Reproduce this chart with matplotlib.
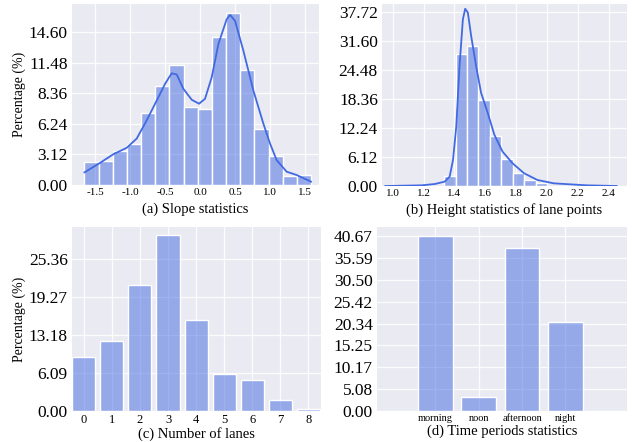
import matplotlib
matplotlib.use("Agg")
import matplotlib.pyplot as plt

# ---------------- data ----------------
# (a) slope histogram
slope_edges = [-1.652, -1.450, -1.247, -1.045, -0.842, -0.640, -0.438, -0.235, -0.033,
               0.170, 0.372, 0.574, 0.777, 0.979, 1.182, 1.384, 1.586]
slope_heights = [2.31, 2.44, 3.49, 4.17, 7.32, 10.07, 12.31, 7.97, 7.73,
                 15.15, 17.63, 11.80, 5.69, 2.92, 0.92, 1.02]
slope_kde_x = [-1.652, -1.443, -1.238, -1.048, -0.905, -0.762, -0.619, -0.500, -0.405, -0.333,
               -0.238, -0.119, -0.014, 0.071, 0.167, 0.262, 0.381, 0.429, 0.500, 0.619,
               0.762, 0.905, 1.000, 1.095, 1.238, 1.381, 1.586]
slope_kde_y = [1.29, 2.20, 3.15, 3.80, 4.75, 6.61, 8.64, 10.34, 11.42, 11.29,
               9.83, 8.71, 8.31, 8.81, 11.02, 14.41, 16.95, 17.39, 16.78, 13.73,
               9.66, 6.27, 4.24, 2.54, 1.36, 1.02, 0.34]
slope_yticks = [0, 3.12, 6.24, 9.36, 12.48, 15.60]
slope_ylabels = ["0.00", "3.12", "6.24", "8.36", "11.48", "14.60"]
slope_xticks = [-1.5, -1.0, -0.5, 0.0, 0.5, 1.0, 1.5]
slope_xlabels = ["-1.5", "-1.0", "-0.5", "0.0", "0.5", "1.0", "1.5"]

# (b) height histogram
height_edges = [1.333, 1.408, 1.481, 1.556, 1.631, 1.704, 1.779, 1.852, 1.927, 2.002]
height_heights = [2.1, 27.8, 29.4, 18.2, 10.6, 5.6, 2.8, 1.27, 0.56]
height_kde_x = [0.951, 1.187, 1.273, 1.337, 1.369, 1.391, 1.412, 1.433, 1.455, 1.470, 1.487,
                1.509, 1.541, 1.573, 1.616, 1.659, 1.712, 1.777, 1.852, 1.938, 2.045, 2.260, 2.453]
height_kde_y = [0.0, 0.14, 0.42, 0.92, 1.97, 5.49, 12.54, 25.2, 35.1, 37.3, 36.5,
                31.5, 25.2, 19.6, 15.4, 10.8, 7.25, 4.79, 2.68, 1.27, 0.56, 0.14, 0.0]
height_yticks = [0, 6.12, 12.24, 18.36, 24.48, 30.60, 36.72]
height_ylabels = ["0.00", "6.12", "12.24", "18.36", "24.48", "31.60", "37.72"]
height_xticks = [1.0, 1.2, 1.4, 1.6, 1.8, 2.0, 2.2, 2.4]
height_xlabels = ["1.0", "1.2", "1.4", "1.6", "1.8", "2.0", "2.2", "2.4"]

# (c) number of lanes
lane_counts = ["0", "1", "2", "3", "4", "5", "6", "7", "8"]
lane_pct = [8.66, 11.23, 20.27, 28.18, 14.65, 5.99, 4.92, 1.82, 0.27]
lane_yticks = [0, 6.09, 12.18, 18.27, 24.36]
lane_ylabels = ["0.00", "6.09", "13.18", "19.27", "25.36"]

# (d) time periods
periods = ["morning", "noon", "afternoon", "night"]
period_pct = [40.8, 3.3, 37.8, 20.7]
period_yticks = [0, 5.08, 10.17, 15.25, 20.34, 25.42, 30.50, 35.59, 40.67]
period_ylabels = ["0.00", "5.08", "10.17", "15.25", "20.34", "25.42", "30.50", "35.59", "40.67"]

# ---------------- style ----------------
plt.rcParams["font.family"] = ["Liberation Serif", "DejaVu Serif"]
plt.rcParams["axes.unicode_minus"] = False

BG = "#EAEAF2"
LINE = "#4169E1"
BAR = (65 / 255, 105 / 255, 225 / 255, 0.5)

W, H = 632, 442
fig = plt.figure(figsize=(W / 100, H / 100), dpi=100)


def make_ax(l, t, r, b):
    ax = fig.add_axes([l / W, (H - b) / H, (r - l) / W, (b - t) / H])
    ax.set_facecolor(BG)
    for s in ax.spines.values():
        s.set_visible(False)
    ax.grid(True, color="white", linewidth=0.9, alpha=0.9)
    ax.set_axisbelow(True)
    ax.tick_params(axis="both", length=0)
    ax.tick_params(axis="y", labelsize=12.5, pad=3)
    ax.tick_params(axis="x", labelsize=8, pad=2)
    return ax


# (a)
ax = make_ax(72, 4, 319, 185)
widths = [slope_edges[i + 1] - slope_edges[i] for i in range(len(slope_heights))]
ax.bar(slope_edges[:-1], slope_heights, width=widths, align="edge",
       color=BAR, edgecolor="white", linewidth=1.0)
ax.plot(slope_kde_x, slope_kde_y, color=LINE, linewidth=1.3)
ax.set_xlim(-1.83, 1.70)
ax.set_ylim(0, 18.5)
ax.set_yticks(slope_yticks, slope_ylabels)
ax.set_xticks(slope_xticks, slope_xlabels)
ax.set_xlabel("(a) Slope statistics", fontsize=10.5, labelpad=4)
ax.set_ylabel("Percentage (%)", fontsize=10, labelpad=2)

# (b)
ax = make_ax(382, 4, 627, 186)
widths = [height_edges[i + 1] - height_edges[i] for i in range(len(height_heights))]
ax.bar(height_edges[:-1], height_heights, width=widths, align="edge",
       color=BAR, edgecolor="white", linewidth=1.0)
ax.plot(height_kde_x, height_kde_y, color=LINE, linewidth=1.3)
ax.set_xlim(0.93, 2.52)
ax.set_ylim(0, 38.3)
ax.set_yticks(height_yticks, height_ylabels)
ax.set_xticks(height_xticks, height_xlabels)
ax.set_xlabel("(b) Height statistics of lane points", fontsize=10.5, labelpad=4)

# (c)
ax = make_ax(72, 227, 321, 411)
xs = list(range(len(lane_counts)))
ax.bar(xs, lane_pct, width=0.82, color=BAR, edgecolor="white", linewidth=1.0)
ax.set_xlim(-0.42, 8.45)
ax.set_ylim(0, 29.5)
ax.set_yticks(lane_yticks, lane_ylabels)
ax.set_xticks(xs, lane_counts)
ax.tick_params(axis="x", labelsize=9)
ax.set_xlabel("(c) Number of lanes", fontsize=10.5, labelpad=1)
ax.set_ylabel("Percentage (%)", fontsize=10, labelpad=2)

# (d)
ax = make_ax(377, 227, 627, 411)
xs = list(range(len(periods)))
ax.bar(xs, period_pct, width=0.8, color=BAR, edgecolor="white", linewidth=1.0)
ax.set_xlim(-1.35, 4.42)
ax.set_ylim(0, 42.8)
ax.set_yticks(period_yticks, period_ylabels)
ax.set_xticks(xs, periods)
ax.tick_params(axis="x", labelsize=7.5)
ax.set_xlabel("(d) Time periods statistics", fontsize=10.5, labelpad=1)

fig.savefig("out.png", dpi=100)
